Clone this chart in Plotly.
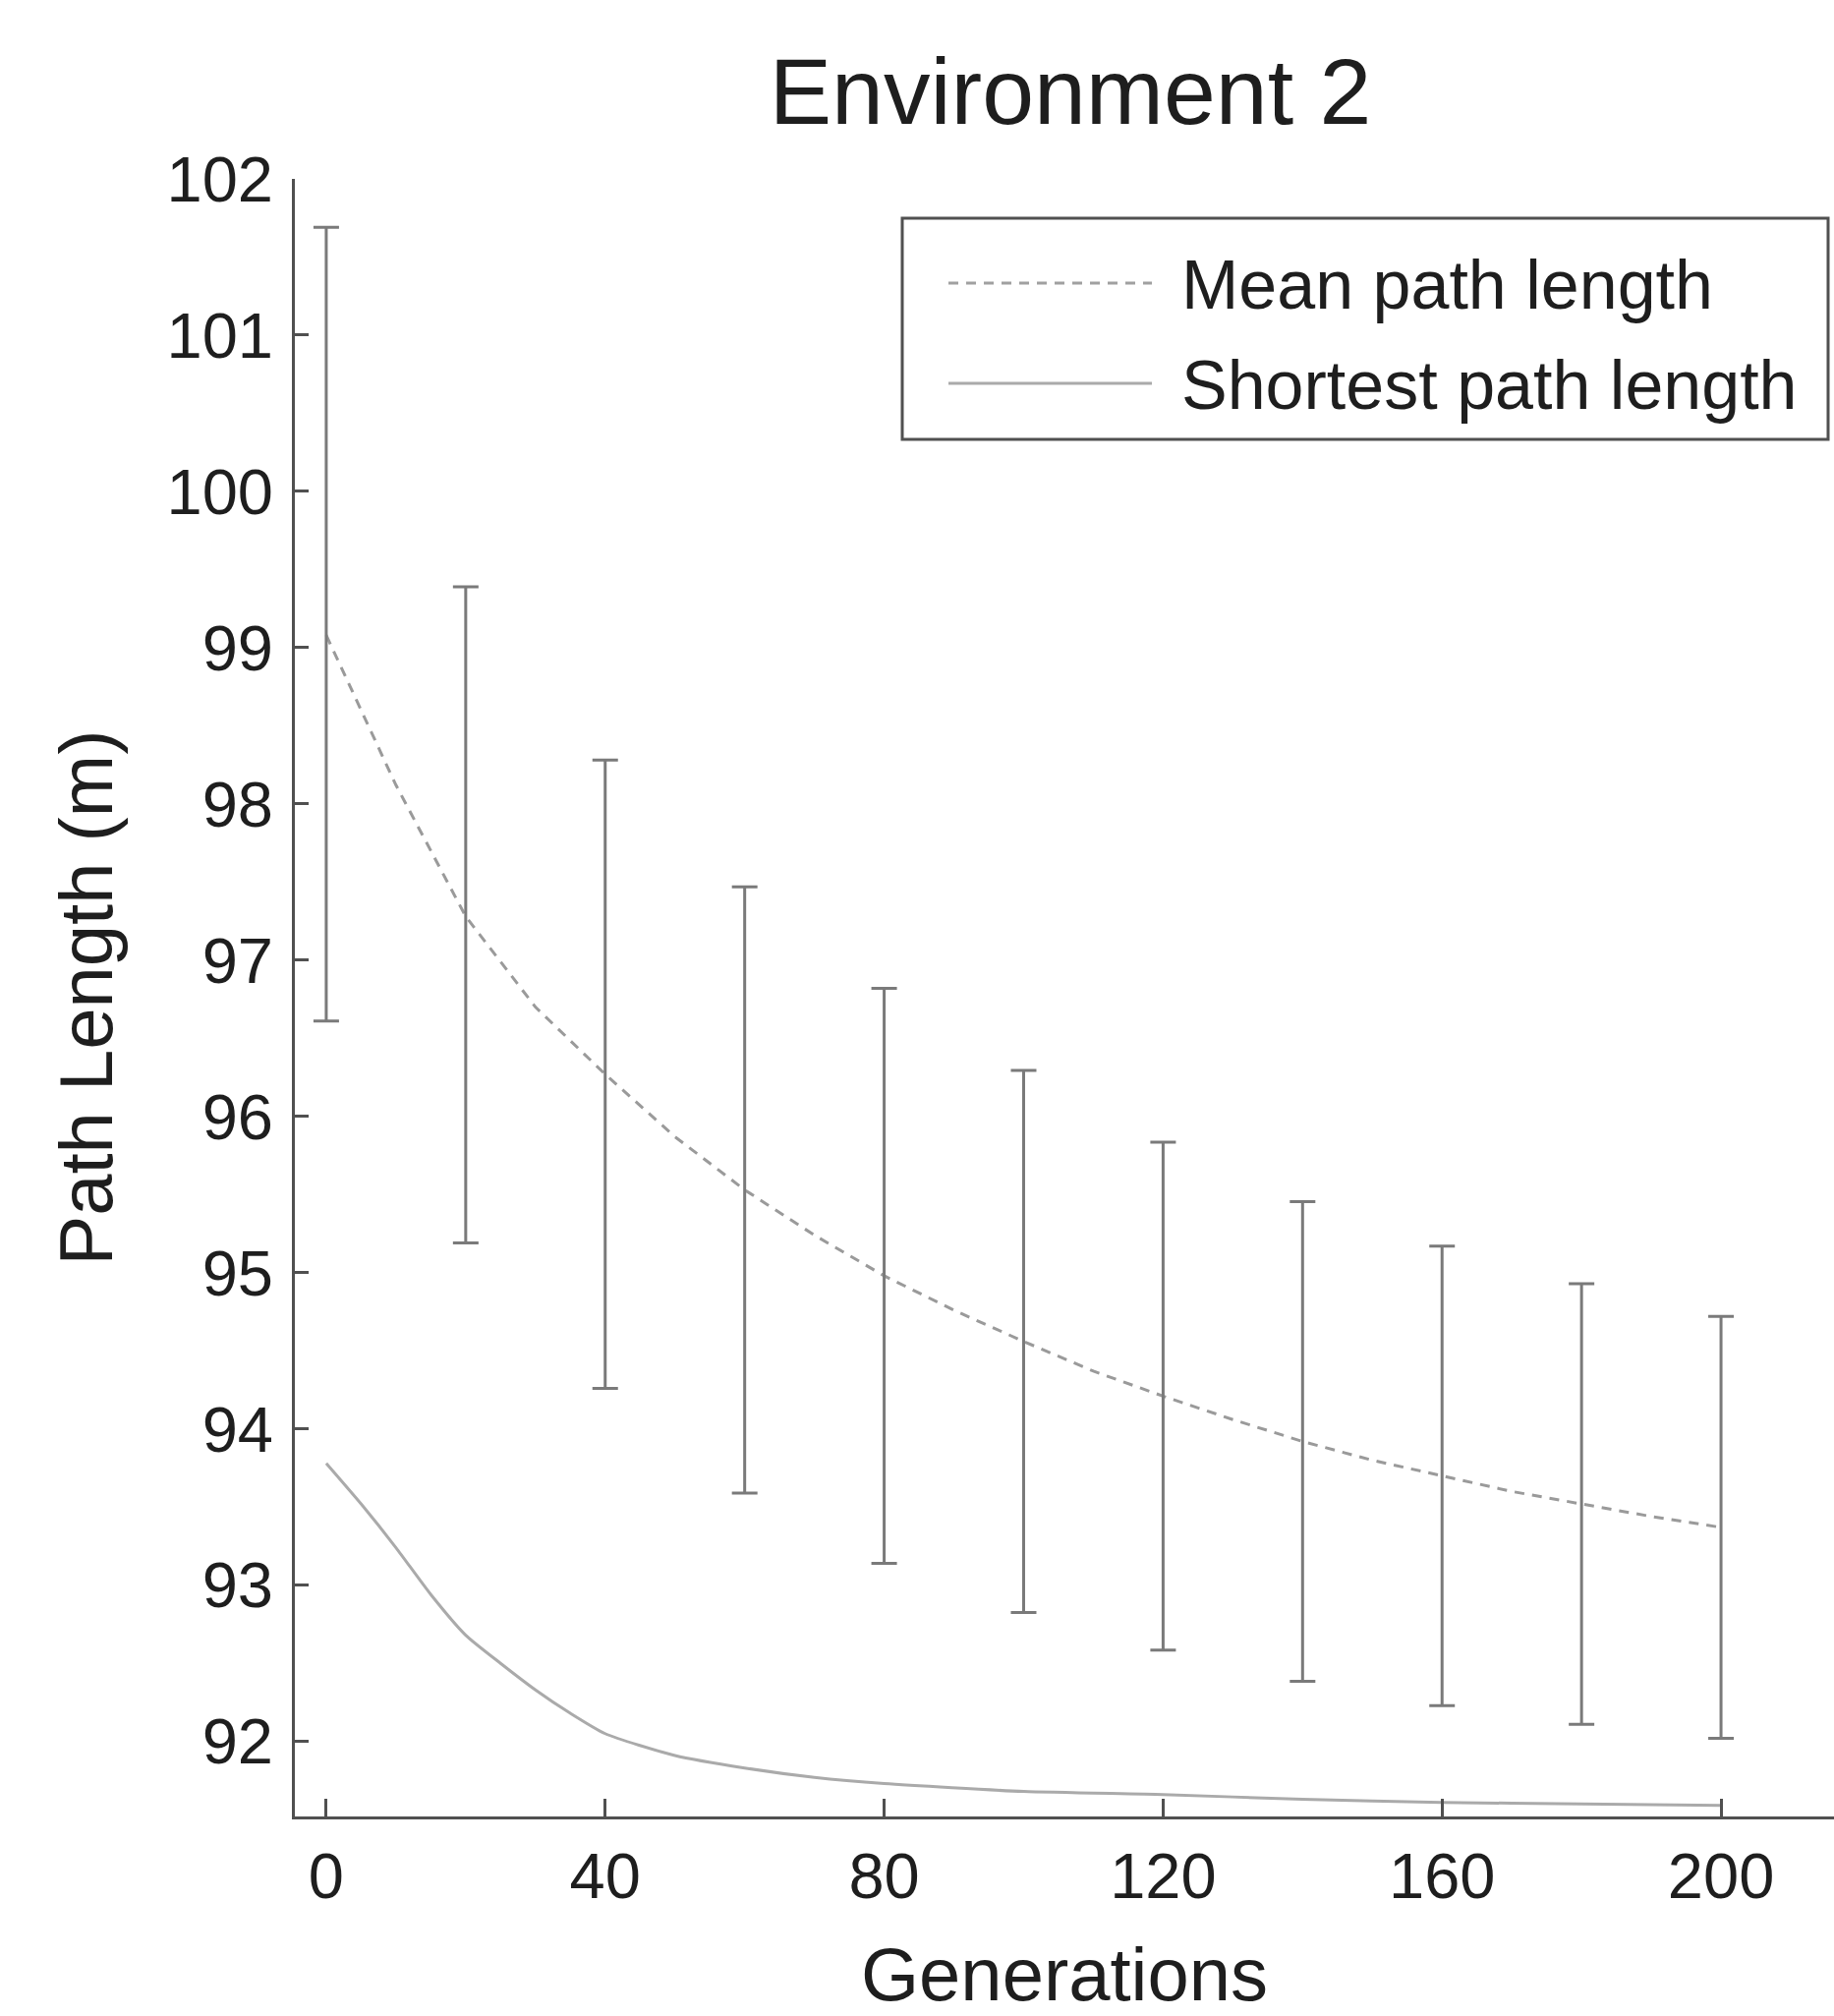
import plotly.graph_objects as go

# ---- data ----
gen_mean = [0, 10, 20, 30, 40, 50, 60, 70, 80, 90, 100, 110, 120, 130, 140, 150, 160, 170, 180, 190, 200]
mean_len = [99.08, 98.12, 97.28, 96.70, 96.27, 95.87, 95.53, 95.24, 94.98, 94.76, 94.56,
            94.37, 94.21, 94.06, 93.92, 93.80, 93.70, 93.60, 93.52, 93.44, 93.37]

gen_err = [0, 20, 40, 60, 80, 100, 120, 140, 160, 180, 200]
mean_at_err = [99.15, 97.29, 96.27, 95.53, 94.98, 94.56, 94.21, 93.92, 93.70, 93.52, 93.37]
std_err = [2.54, 2.10, 2.01, 1.94, 1.84, 1.735, 1.625, 1.535, 1.47, 1.41, 1.35]

gen_short = [0, 5, 10, 15, 20, 25, 30, 35, 40, 50, 60, 70, 80, 100, 120, 140, 160, 180, 200]
short_len = [93.78, 93.52, 93.24, 92.94, 92.68, 92.50, 92.33, 92.18, 92.05, 91.91, 91.83,
             91.77, 91.73, 91.68, 91.66, 91.63, 91.61, 91.60, 91.59]

x_ticks = [0, 40, 80, 120, 160, 200]
y_ticks = list(range(92, 103))

title_text = "Environment 2"
x_title = "Generations"
y_title = "Path Length (m)"
legend_labels = ["Mean path length", "Shortest path length"]

# ---- layout geometry ----
W, H = 1866, 2051
ML, MT, MB, MR = 300, 182, 203, 0
PW, PH = W - ML - MR, H - MT - MB

def px(x):
    return (x - ML) / PW

def py(y):
    return (H - MB - y) / PH

FONT = "Liberation Sans, Arial, sans-serif"
TXT = "#1e1e1e"

fig = go.Figure()

fig.add_trace(go.Scatter(
    x=gen_mean, y=mean_len, mode="lines", name=legend_labels[0],
    line=dict(color="#9a9a9a", width=3, dash="10px,8px"), showlegend=False))

fig.add_trace(go.Scatter(
    x=gen_err, y=mean_at_err, mode="markers", marker=dict(size=1, opacity=0),
    error_y=dict(type="data", array=std_err, visible=True, color="#7a7a7a",
                 thickness=3, width=13),
    showlegend=False, hoverinfo="skip"))

fig.add_trace(go.Scatter(
    x=gen_short, y=short_len, mode="lines", name=legend_labels[1],
    line=dict(color="#aaaaaa", width=3, shape="spline", smoothing=0.6), showlegend=False))

# manual legend box (matches the long sample lines of the reference)
shapes = [
    dict(type="rect", xref="paper", yref="paper",
         x0=px(918), x1=px(1860), y0=py(447), y1=py(222),
         line=dict(color="#505050", width=3), fillcolor="white", layer="above"),
    dict(type="line", xref="paper", yref="paper",
         x0=px(965), x1=px(1172), y0=py(288), y1=py(288),
         line=dict(color="#a0a0a0", width=3, dash="10px,8px"), layer="above"),
    dict(type="line", xref="paper", yref="paper",
         x0=px(965), x1=px(1172), y0=py(390), y1=py(390),
         line=dict(color="#aaaaaa", width=3), layer="above"),
]
annotations = [
    dict(text=legend_labels[0], xref="paper", yref="paper", x=px(1200), y=py(290),
         xanchor="left", yanchor="middle", showarrow=False,
         font=dict(family=FONT, size=70, color=TXT)),
    dict(text=legend_labels[1], xref="paper", yref="paper", x=px(1200), y=py(392),
         xanchor="left", yanchor="middle", showarrow=False,
         font=dict(family=FONT, size=70, color=TXT)),
]

fig.update_layout(
    width=W, height=H,
    margin=dict(l=ML, r=MR, t=MT, b=MB, autoexpand=False),
    paper_bgcolor="white", plot_bgcolor="white",
    font=dict(family=FONT, color=TXT),
    title=dict(text=title_text, x=1089 / W, xref="container", xanchor="center",
               y=1 - 93 / H, yref="container", yanchor="middle",
               font=dict(family=FONT, size=95, color=TXT)),
    shapes=shapes, annotations=annotations,
    showlegend=False,
)

fig.update_xaxes(
    range=[-4.5, 216.2], tickmode="array", tickvals=x_ticks,
    ticks="inside", ticklen=18, tickwidth=3, tickcolor="#505050",
    showline=True, linecolor="#505050", linewidth=3, mirror=False,
    showgrid=False, zeroline=False,
    tickfont=dict(family=FONT, size=65, color=TXT), ticklabelstandoff=2,
    title=dict(text=x_title, font=dict(family=FONT, size=76, color=TXT), standoff=45),
)
fig.update_yaxes(
    range=[91.52, 102.0], tickmode="array", tickvals=y_ticks,
    ticks="inside", ticklen=14, tickwidth=3, tickcolor="#505050",
    showline=True, linecolor="#505050", linewidth=3, mirror=False,
    showgrid=False, zeroline=False,
    tickfont=dict(family=FONT, size=65, color=TXT), ticklabelstandoff=6,
    title=dict(text=y_title, font=dict(family=FONT, size=76, color=TXT), standoff=30),
)

fig.write_html("out.html")
